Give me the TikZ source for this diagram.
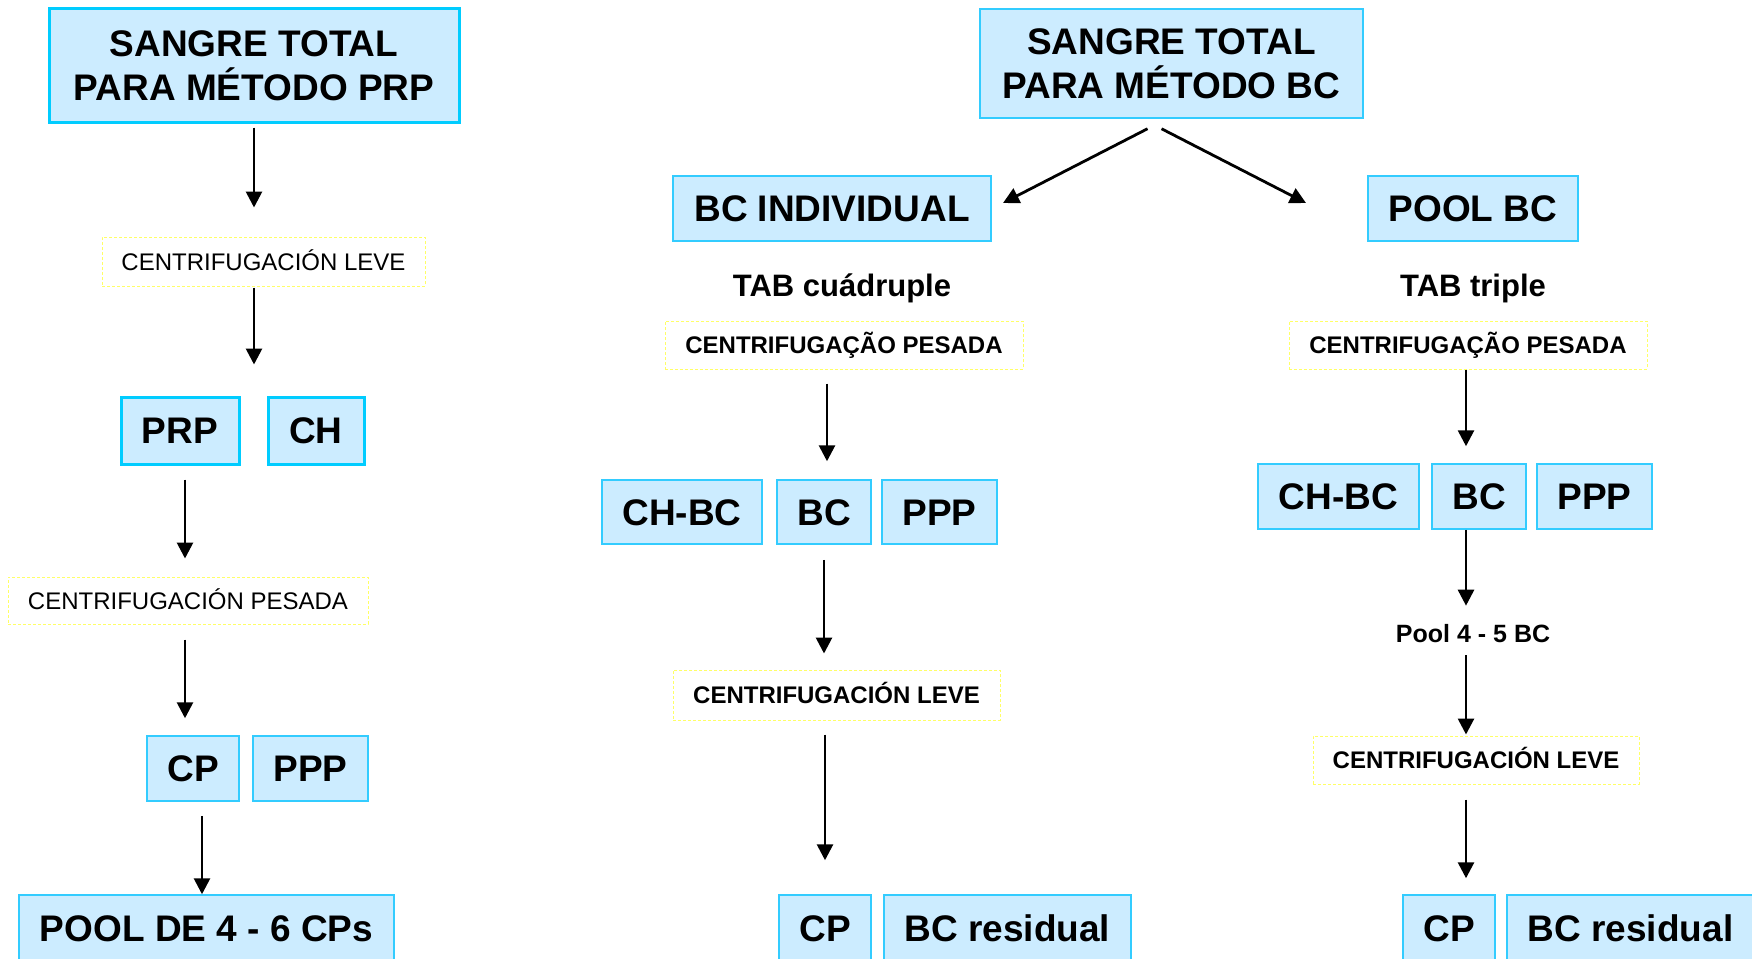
\documentclass[tikz,border=0pt]{standalone}
\usepackage{fontspec}
\setmainfont{Liberation Sans}
\usetikzlibrary{arrows.meta}
\definecolor{boxfill}{HTML}{CCECFF}
\definecolor{boxline}{HTML}{00CCFF}
\definecolor{boxlite}{HTML}{33CCFF}
\definecolor{centline}{HTML}{FFFF66}

\begin{document}
\begin{tikzpicture}[x=1pt, y=-1pt,
  bigbox/.style={draw=boxline, line width=3pt, fill=boxfill, inner sep=0pt,
    align=center, font=\fontsize{37}{44}\selectfont\bfseries},
  onebox/.style={bigbox, text height=26.5pt, text depth=0pt},
  prodbox/.style={onebox, draw=boxlite, line width=1.5pt},
  centbox/.style={draw=centline, line width=1pt, dash pattern=on 3pt off 2pt,
    inner sep=0pt, text height=17.2pt, text depth=0pt,
    font=\fontsize{24}{28}\selectfont},
  centbold/.style={centbox, font=\fontsize{24}{28}\selectfont\bfseries},
  tabtext/.style={inner sep=0pt, anchor=base, font=\fontsize{31}{36}\selectfont\bfseries},
  arr/.style={-{Triangle[length=16pt, width=16pt]}, line width=2.8pt}]

  \useasboundingbox (0,0) rectangle (1752,958);

  % PRP method
  \node[bigbox, minimum width=410pt, minimum height=113pt] (stprp) at (254,65.5)
    {SANGRE TOTAL\\PARA MÉTODO PRP};
  \node[centbox, minimum width=323pt, minimum height=49pt] (leveL) at (263.5,261.5)
    {CENTRIFUGACIÓN LEVE};
  \node[onebox, minimum width=118pt, minimum height=67pt] (prp) at (180,430.5) {PRP};
  \node[onebox, minimum width=96pt, minimum height=67pt] (ch) at (316,430.5) {CH};
  \node[centbox, minimum width=360pt, minimum height=47pt] (pesL) at (188,600.5)
    {CENTRIFUGACIÓN PESADA};
  \node[prodbox, minimum width=92pt, minimum height=65pt] (cpL) at (193,768.5) {CP};
  \node[prodbox, minimum width=115pt, minimum height=65pt] (pppL) at (310.5,768.5) {PPP};
  \node[prodbox, minimum width=375pt, minimum height=66pt] (poolL) at (206.5,928)
    {POOL DE 4 - 6 CPs};

  \draw[arr, shorten <=4pt, shorten >=29pt] (stprp.south) -- (stprp.south |- leveL.north);
  \draw[arr, shorten <=1pt, shorten >=31pt] (stprp.south |- leveL.south) -- (stprp.south |- prp.north);
  \draw[arr, shorten <=14pt, shorten >=18pt] ([xshift=5pt]prp.south) -- ([xshift=5pt]prp.south |- pesL.north);
  \draw[arr, shorten <=15pt, shorten >=17pt] ([xshift=5pt]prp.south |- pesL.south) -- ([xshift=5pt]prp.south |- cpL.north);
  \draw[arr, shorten <=14pt] ([xshift=9pt]cpL.south) -- ([xshift=9pt]cpL.south |- poolL.north);

  % BC method
  \node[bigbox, draw=boxlite, line width=1.5pt, minimum width=383pt, minimum height=109pt] (stbc) at (1171.5,63.5)
    {SANGRE TOTAL\\PARA MÉTODO BC};
  \coordinate (tipL) at (1003,203);
  \coordinate (tipR) at (1306,203);
  \draw[arr] ([xshift=-24pt, yshift=-10pt]stbc.south) -- (tipL);
  \draw[arr] ([xshift=-10pt, yshift=-10pt]stbc.south) -- (tipR);

  % individual BC
  \node[prodbox, minimum width=318pt, minimum height=65pt] (bcind) at (832,208.5) {BC INDIVIDUAL};
  \node[tabtext] (tabq) at (842,296) {TAB cuádruple};
  \node[centbold, minimum width=358pt, minimum height=48pt] (pesM) at (844,345)
    {CENTRIFUGAÇÃO PESADA};
  \node[prodbox, minimum width=160pt, minimum height=64pt] (chbcM) at (682,512) {CH-BC};
  \node[prodbox, minimum width=94pt, minimum height=64pt] (bcM) at (824,512) {BC};
  \node[prodbox, minimum width=115pt, minimum height=64pt] (pppM) at (939.5,512) {PPP};
  \node[centbold, minimum width=327pt, minimum height=50pt] (leveM) at (836.5,695)
    {CENTRIFUGACIÓN LEVE};
  \node[prodbox, minimum width=92pt, minimum height=66pt] (cpM) at (825,928) {CP};
  \node[prodbox, minimum width=247pt, minimum height=66pt] (bcrM) at (1007.5,928) {BC residual};

  \draw[arr, shorten <=14pt, shorten >=18pt] ([xshift=3pt]bcM.north |- pesM.south) -- ([xshift=3pt]bcM.north);
  \draw[arr, shorten <=15pt, shorten >=16pt] (bcM.south) -- (bcM.south |- leveM.north);
  \draw[arr, shorten <=14pt, shorten >=34pt] (cpM.north |- leveM.south) -- (cpM.north);

  % pool of BC
  \node[prodbox, minimum width=210pt, minimum height=65pt] (poolbc) at (1473,208.5) {POOL BC};
  \node[tabtext] (tabt) at (1473,296) {TAB triple};
  \node[centbold, minimum width=358pt, minimum height=48pt] (pesR) at (1468,345)
    {CENTRIFUGAÇÃO PESADA};
  \node[prodbox, minimum width=161pt, minimum height=65pt] (chbcR) at (1338.5,496.5) {CH-BC};
  \node[prodbox, minimum width=94pt, minimum height=65pt] (bcR) at (1479,496.5) {BC};
  \node[prodbox, minimum width=115pt, minimum height=65pt] (pppR) at (1594.5,496.5) {PPP};
  \node[tabtext, font=\fontsize{25}{30}\selectfont\bfseries] (pool45) at (1473,642) {Pool 4 - 5 BC};
  \node[centbold, minimum width=326pt, minimum height=48pt] (leveR) at (1476,760)
    {CENTRIFUGACIÓN LEVE};
  \node[prodbox, minimum width=92pt, minimum height=66pt] (cpR) at (1449,928) {CP};
  \node[prodbox, minimum width=247pt, minimum height=66pt] (bcrR) at (1630.5,928) {BC residual};

  \draw[arr, shorten >=17pt] ([xshift=-2pt]pesR.south) -- ([xshift=-2pt]pesR.south |- bcR.north);
  \draw[arr, shorten >=18pt] ([xshift=-2pt]pesR.south |- bcR.south) -- ([xshift=-2pt]pesR.south |- pool45.north);
  \draw[arr, shorten <=13pt, shorten >=1pt] ([xshift=-2pt]pesR.south |- pool45.south) -- ([xshift=-2pt]pesR.south |- leveR.north);
  \draw[arr, shorten <=15pt, shorten >=16pt] ([xshift=-2pt]pesR.south |- leveR.south) -- ([xshift=-2pt]pesR.south |- cpR.north);
\end{tikzpicture}
\end{document}
